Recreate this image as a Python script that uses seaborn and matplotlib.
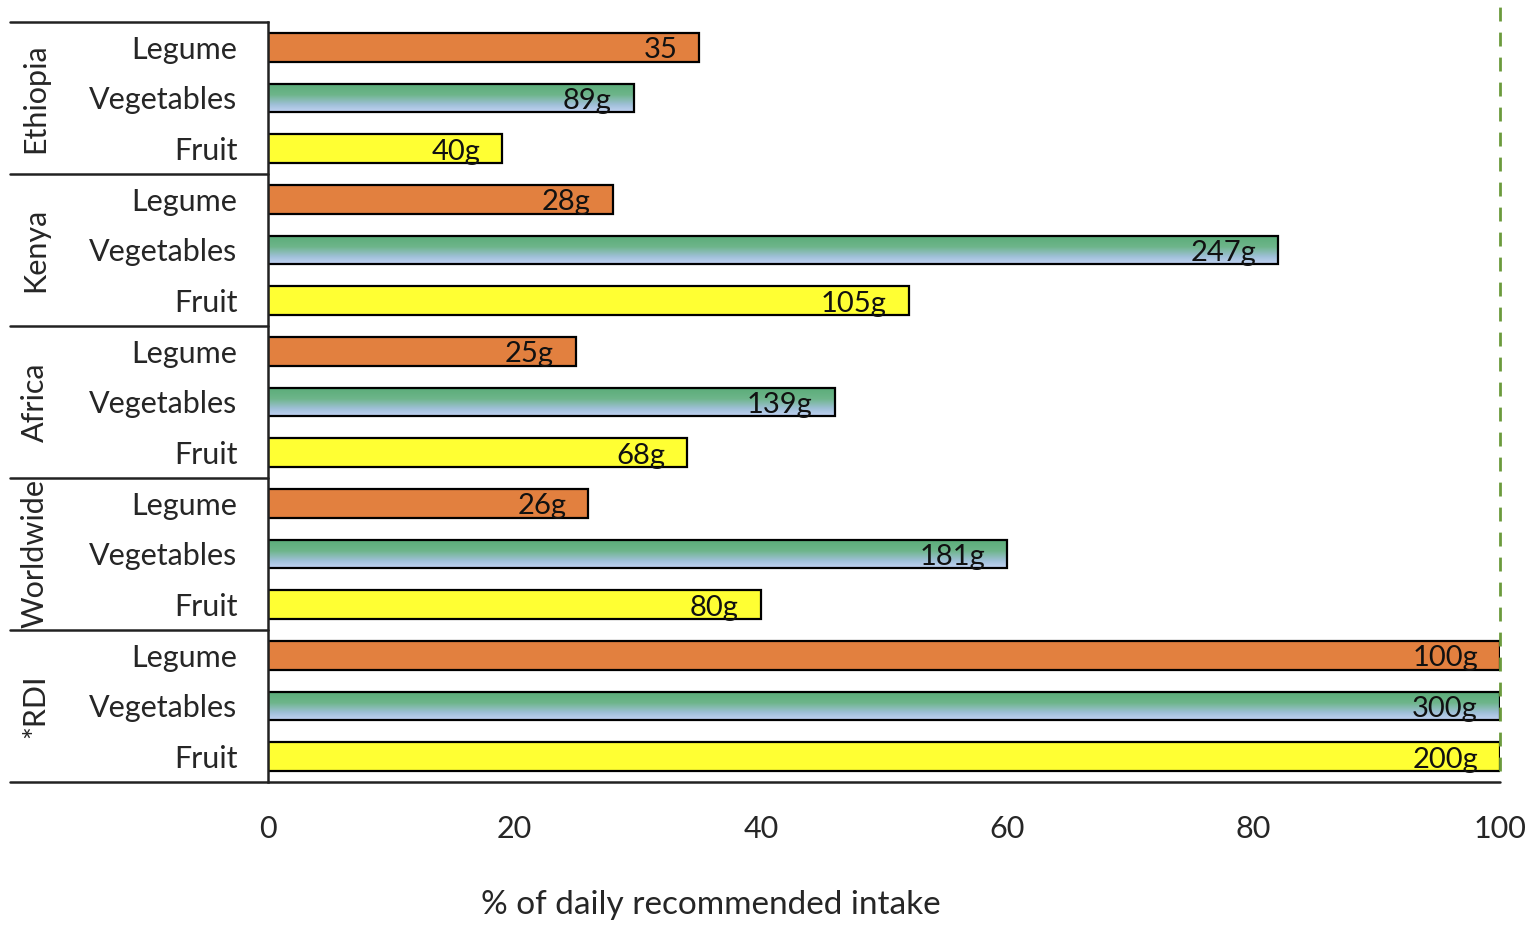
"""Fruit, vegetable and legume intake vs recommended daily intake."""

import matplotlib.pyplot as plt
import matplotlib.colors as mcolors
import numpy as np
import pandas as pd
import seaborn as sns

regions = ["Ethiopia", "Kenya", "Africa", "Worldwide", "*RDI"]
foods = ["Legume", "Vegetables", "Fruit"]
pct_intake = [
    [35, 29.7, 19],
    [28, 82, 52],
    [25, 46, 34],
    [26, 60, 40],
    [100, 100, 100],
]
grams_labels = [
    ["35", "89g", "40g"],
    ["28g", "247g", "105g"],
    ["25g", "139g", "68g"],
    ["26g", "181g", "80g"],
    ["100g", "300g", "200g"],
]
food_colors = {"Legume": "#e2803f", "Vegetables": "#8cc0b0", "Fruit": "#ffff33"}
veg_gradient = [(0.0, "#5aac78"), (0.4, "#6db58a"), (0.75, "#9fc0d8"), (1.0, "#c2d2f3")]

rows = []
for region, vals, labs in zip(regions, pct_intake, grams_labels):
    for food, v, lab in zip(foods, vals, labs):
        rows.append({"row": f"{region}|{food}", "region": region, "food": food,
                     "pct": v, "label": lab})
df = pd.DataFrame(rows)

sns.set_theme(style="white")
plt.rcParams["font.family"] = ["Lato", "DejaVu Sans"]

fig = plt.figure(figsize=(15.35, 9.32), dpi=100)
W, H = 1535, 932
ax = fig.add_axes([268 / W, 1 - 782 / H, 1232 / W, 760 / H])

sns.barplot(data=df, y="row", x="pct", hue="food", palette=food_colors,
            dodge=False, width=0.56, edgecolor="black", linewidth=1.6,
            saturation=1, legend=False, ax=ax)

# gradient fill for the vegetables bars
cmap = mcolors.LinearSegmentedColormap.from_list("veg", veg_gradient)
grad = np.linspace(0, 1, 100).reshape(-1, 1)
for patch in ax.patches:
    if patch.get_height() == 0:
        continue
    yc = patch.get_y() + patch.get_height() / 2
    idx = int(round(yc))
    if df.loc[idx, "food"] != "Vegetables":
        continue
    x0, y0 = patch.get_x(), patch.get_y()
    w, h = patch.get_width(), patch.get_height()
    im = ax.imshow(grad, cmap=cmap, aspect="auto", origin="upper",
                   extent=[x0, x0 + w, y0 + h, y0], zorder=patch.get_zorder() - 0.1)
    im.set_clip_path(patch)
    patch.set_facecolor("none")

ax.set_xlim(0, 100)
ax.set_ylim(len(df) - 0.5, -0.5)

# value labels inside bar ends
for i, r in df.iterrows():
    ax.annotate(r["label"], (r["pct"], i), xytext=(-22, -3),
                textcoords="offset pixels", ha="right", va="center",
                fontsize=21, color="#111111")

# recommended intake line
ax.axvline(100, ymin=0.015, ymax=1.03, color="#6b9a3c", linestyle=(0, (5, 4)),
           linewidth=2, clip_on=False, zorder=5)

ax.set_yticks(range(len(df)))
ax.set_yticklabels(df["food"], fontsize=22)
ax.tick_params(axis="y", length=0, pad=22)
ax.set_xticks([0, 20, 40, 60, 80, 100])
ax.tick_params(axis="x", length=0, pad=24, labelsize=22)
ax.set_xlabel("% of daily recommended intake", fontsize=24, labelpad=0)
ax.xaxis.set_label_coords((711 - 268) / 1232, -0.142)
ax.set_ylabel("")

for side in ["top", "right", "bottom"]:
    ax.spines[side].set_visible(False)
ax.spines["left"].set_linewidth(1.8)
ax.spines["left"].set_color("#222222")

# group table on the left
left = (10 - 268) / 1232
trans = ax.get_yaxis_transform()
n_food = len(foods)
for g, region in enumerate(regions):
    top = g * n_food - 0.5
    ax.plot([left, 0], [top, top], transform=trans, color="#222222",
            linewidth=1.8, clip_on=False)
    ax.text((35 - 268) / 1232, g * n_food + 1, region, transform=trans,
            rotation=90, ha="center", va="center", fontsize=22)
ax.plot([left, 1], [len(df) - 0.5, len(df) - 0.5], transform=trans,
        color="#222222", linewidth=1.8, clip_on=False)

fig.savefig("out.png", dpi=100)
